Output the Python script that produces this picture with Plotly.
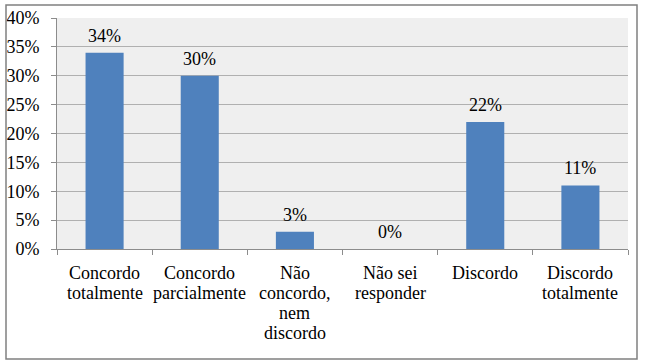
import plotly.graph_objects as go

categories = ["Concordo<br>totalmente", "Concordo<br>parcialmente", "Não<br>concordo,<br>nem<br>discordo",
              "Não sei<br>responder", "Discordo", "Discordo<br>totalmente"]
values = [0.34, 0.30, 0.03, 0.00, 0.22, 0.11]
labels = ["34%", "30%", "3%", "0%", "22%", "11%"]

FONT = "Liberation Serif"

fig = go.Figure(go.Bar(x=categories, y=values, marker=dict(color="#4f81bd", line=dict(width=0)),
                       hoverinfo="skip"))

# value labels above the bars
for c, v, t in zip(categories, values, labels):
    fig.add_annotation(x=c, y=v, text=t, showarrow=False, yanchor="bottom", yshift=5,
                       font=dict(family=FONT, size=18, color="black"))

# category labels, one annotation per line (tight line spacing like the original)
for c in categories:
    for i, line in enumerate(c.split("<br>")):
        fig.add_annotation(x=c, y=0, xref="x", yref="y", text=line, showarrow=False,
                           yanchor="top", yshift=-12 - 20 * i,
                           font=dict(family=FONT, size=18, color="black"))

L, R, T, B = 57, 17, 18, 115
W, H = 645, 364
pw, ph = W - L - R, H - T - B

fig.add_shape(type="rect", xref="paper", yref="paper",
              x0=(6 - L) / pw, x1=(637 - L) / pw,
              y0=(H - B - 359) / ph, y1=(H - B - 5) / ph,
              line=dict(color="#808080", width=1.5), layer="above")

fig.update_layout(
    width=W, height=H, margin=dict(l=L, r=R, t=T, b=B, autoexpand=False),
    paper_bgcolor="white", plot_bgcolor="#efefef",
    bargap=0.6, showlegend=False,
    font=dict(family=FONT, size=18, color="black"),
)
fig.update_yaxes(range=[0, 0.4], dtick=0.05, tickformat=".0%", showgrid=True,
                 gridcolor="#b0b0b0", gridwidth=1, showline=True, linecolor="#8c8c8c",
                 ticks="outside", ticklen=5, tickcolor="#8c8c8c", ticklabelstandoff=8,
                 zeroline=False, fixedrange=True)
fig.update_xaxes(showline=True, linecolor="#8c8c8c", ticks="outside", tickson="boundaries",
                 ticklen=5, tickcolor="#8c8c8c", showgrid=False, showticklabels=False,
                 fixedrange=True)

fig.write_html("out.html", config={"displayModeBar": False},
               post_script="document.body.style.margin='0';")
